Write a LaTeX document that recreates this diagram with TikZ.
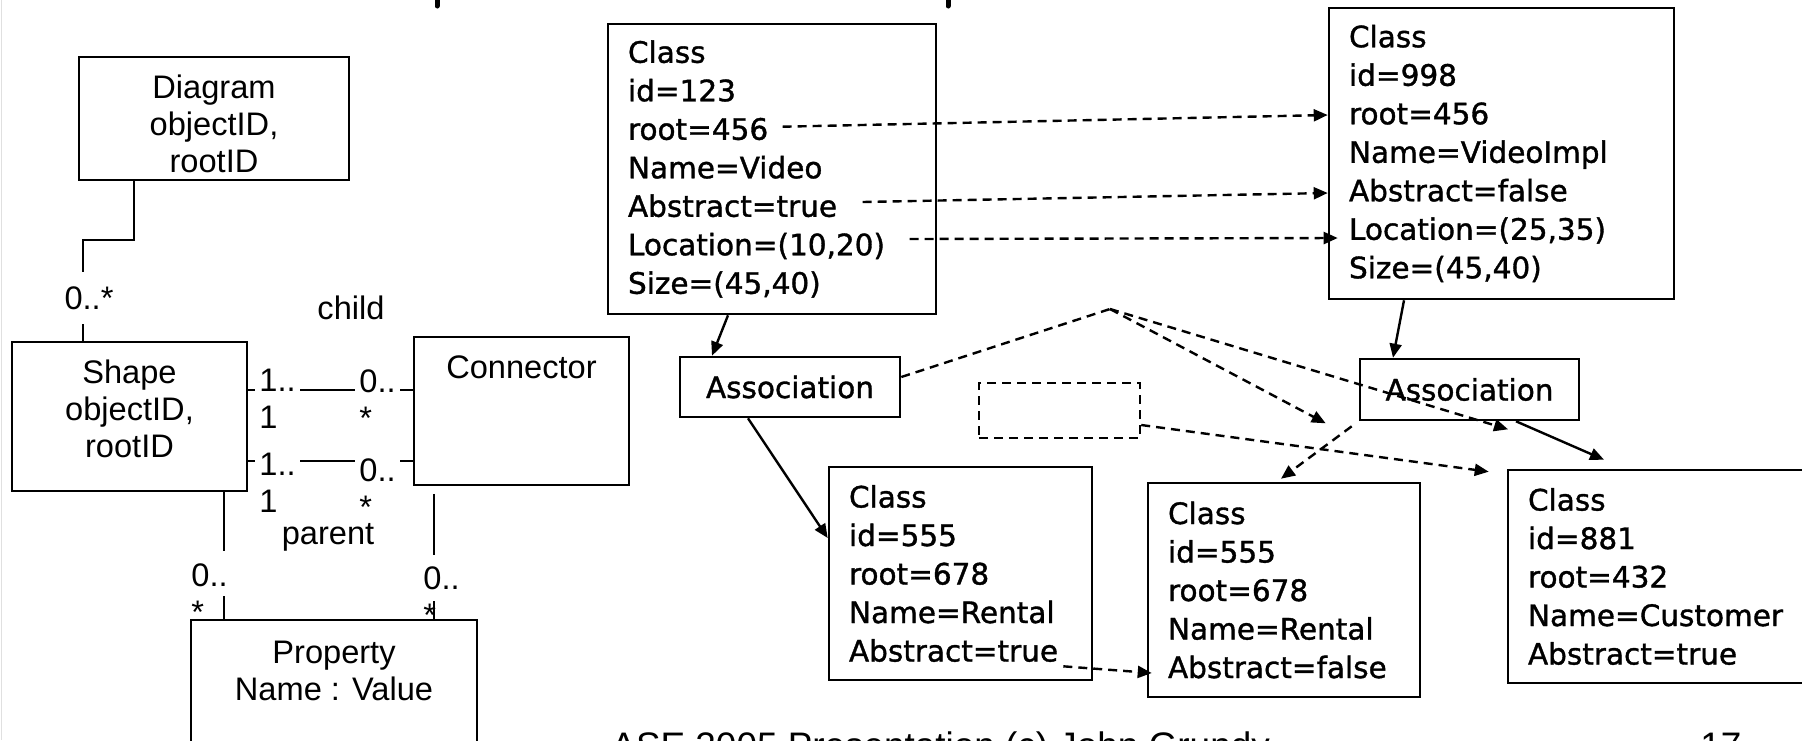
\documentclass[tikz,border=0pt]{standalone}
\usepackage{fontspec}
\setmainfont{Liberation Sans}
\newfontfamily\umlfont{Liberation Sans}
\newfontfamily\objfont[FakeBold=1.2]{DejaVu Sans}
\usetikzlibrary{arrows.meta}

\begin{document}
\begin{tikzpicture}[x=0.5pt, y=-0.5pt,
  uml/.style={font=\umlfont\fontsize{16.3pt}{18.5pt}\selectfont},
  umlbox/.style={draw, line width=0.9pt, uml, align=center, inner sep=0pt},
  umltext/.style={uml, align=center, inner sep=0pt},
  mult/.style={uml, align=left, inner xsep=2pt, inner ysep=0pt, anchor=north west},
  obj/.style={font=\objfont\fontsize{14.75pt}{19.25pt}\selectfont},
  objbox/.style={draw, line width=1.3pt, obj, align=left, inner xsep=10pt, inner ysep=0pt},
  assocbox/.style={draw, line width=1.3pt, obj, inner sep=0pt},
  link/.style={line width=0.8pt},
  solidarrow/.style={line width=1.2pt, -{Triangle[length=7pt,width=6pt]}},
  dashedline/.style={line width=1.2pt, dash pattern=on 4.5pt off 3pt},
  dashedarrow/.style={dashedline, -{Triangle[length=7pt,width=6pt]}},
  footer/.style={font=\umlfont\fontsize{18.45pt}{22pt}\selectfont, anchor=base west, inner sep=0pt},
]
\useasboundingbox (0,0) rectangle (1802,740);

% slide edge and the descenders of the heading above
\draw[black!12, line width=0.5pt] (1,0) -- (1,740);
\draw[line width=2.5pt, line cap=round] (437,-6) -- (437,6);
\draw[line width=2.5pt, line cap=round] (948,-6) -- (948,6);

% ---------------- meta-model (left) ----------------
\node[umlbox, minimum width=135pt, minimum height=61.5pt] (dgm) at (214,118.5) {};
\node[umltext] (dgmT) at ([yshift=-2.5pt]dgm.center) {Diagram\\objectID,\\rootID};
\node[umlbox, minimum width=117.5pt, minimum height=74.5pt] (shape) at (129.5,416.5) {};
\node[umltext] (shapeT) at ([yshift=3.75pt]shape.center) {Shape\\objectID,\\rootID};
\node[umlbox, minimum width=107.5pt, minimum height=74pt] (conn) at (521.5,411) {};
\node[umltext, anchor=north] (connT) at ([yshift=-9.5pt]conn.north) {Connector};
\node[umlbox, minimum width=143pt, minimum height=90pt] (prop) at (334,710) {};
\node[umltext, anchor=north] (propT) at ([yshift=-10.7pt]prop.north) {Property\\Name : Value};

% Diagram -- Shape
\coordinate (dk) at (83,240);
\draw[link] ([xshift=-40pt]dgm.south) |- (dk) -- ([xshift=-23.25pt]shape.north);
\node[uml, fill=white, inner xsep=0pt, inner ysep=7pt] (m0) at (89,298) {0..*};

% Shape -- Connector (child / parent)
\draw[link] ([yshift=13.25pt]shape.east) -- ([yshift=10.5pt]conn.west);
\draw[link] ([yshift=-22.25pt]shape.east) -- ([yshift=-25pt]conn.west);
\node[mult, fill=white] (m1) at (255,368.5) {1..\\1};
\node[mult, fill=white] (m2) at (355,369.5) {0..\\*};
\node[mult, fill=white] (m3) at (255,453) {1..\\1};
\node[mult, fill=white] (m4) at (355,458) {0..\\*};
\node[uml] (child) at (351,308) {child};
\node[uml] (parent) at (328,537) {parent};

% Shape -- Property and Connector -- Property
\draw[link] ([xshift=47.25pt]shape.south) -- ++(0,59);
\draw[link] ([xshift=-55pt]prop.north) -- ++(0,-23);
\draw[link] ([shift={(-43.75pt,-4pt)}]conn.south) -- ++(0,61);
\draw[link] ([xshift=50pt]prop.north) -- ++(0,-18);
\node[mult] (m5) at (187,563.5) {0..\\*};
\node[mult] (m6) at (419,566.5) {0..\\*};

% ---------------- model instances (right) ----------------
\node[objbox, text width=144pt, minimum height=145pt] (c123) at (772,169)
  {Class\\id=123\\root=456\\Name=Video\\Abstract=true\\Location=(10,20)\\Size=(45,40)};
\node[objbox, text width=152.5pt, minimum height=145.5pt] (c998) at (1501.5,153.5)
  {Class\\id=998\\root=456\\Name=VideoImpl\\Abstract=false\\Location=(25,35)\\Size=(45,40)};
\node[assocbox, minimum width=110pt, minimum height=30pt] (as1) at (790,387) {Association};
\node[assocbox, minimum width=109.5pt, minimum height=30.5pt] (as2) at (1469.5,389.5) {Association};
\node[objbox, text width=111.5pt, minimum height=106.5pt] (c555a) at (960.5,573.5)
  {Class\\id=555\\root=678\\Name=Rental\\Abstract=true};
\node[objbox, text width=116pt, minimum height=107pt] (c555b) at (1284,590)
  {Class\\id=555\\root=678\\Name=Rental\\Abstract=false};
\node[objbox, text width=145pt, minimum height=106.5pt] (c881) at (1673,576.5)
  {Class\\id=881\\root=432\\Name=Customer\\Abstract=true};
\node[draw, dashedline, minimum width=80.5pt, minimum height=27.5pt, inner sep=0pt] (ghost) at (1059.5,410.5) {};
\coordinate (apex) at (1110,309);

% structural links
\draw[solidarrow] ([xshift=-22pt]c123.south) -- ([xshift=-39pt]as1.north);
\draw[solidarrow] ([xshift=-21pt]as1.south) -- ([yshift=17.75pt]c555a.west);
\draw[solidarrow] ([xshift=-48.75pt]c998.south) -- ([xshift=-38.25pt]as2.north);
\draw[solidarrow] ([xshift=23.25pt]as2.south) -- ([shift={(-34.5pt,4.5pt)}]c881.north);

% correspondences between the versions
\draw[dashedarrow] ([shift={(88pt,-52pt)}]c123.north west) -- ([yshift=19.25pt]c998.west);
\draw[dashedarrow] ([shift={(128pt,-16.5pt)}]c123.west) -- ([yshift=-19.75pt]c998.west);
\draw[dashedarrow] ([shift={(151.5pt,-35pt)}]c123.west) -- ([shift={(5pt,-42.25pt)}]c998.west);
\draw[dashedarrow] ([shift={(-15pt,7.5pt)}]c555a.south east) -- ([shift={(2.5pt,-41.5pt)}]c555b.west);
\draw[dashedline] ([yshift=5pt]as1.east) -- (apex);
\draw[dashedarrow] (apex) -- ([shift={(-16.5pt,-1pt)}]as2.south west);
\draw[dashedarrow] (apex) -- ([shift={(19.25pt,-4pt)}]as2.south);
\draw[dashedarrow] ([yshift=-7.25pt]ghost.east) -- ([shift={(-9pt,-1.5pt)}]c881.north west);
\draw[dashedarrow] ([shift={(-3.5pt,-2.5pt)}]as2.south west) -- ([shift={(-1.5pt,1.5pt)}]c555b.north);

% footer line
\node[footer] (foot) at (611,758) {ASE 2005 Presentation (c) John Grundy};
\node[footer] (pageno) at (1700,758) {17};
\end{tikzpicture}
\end{document}
